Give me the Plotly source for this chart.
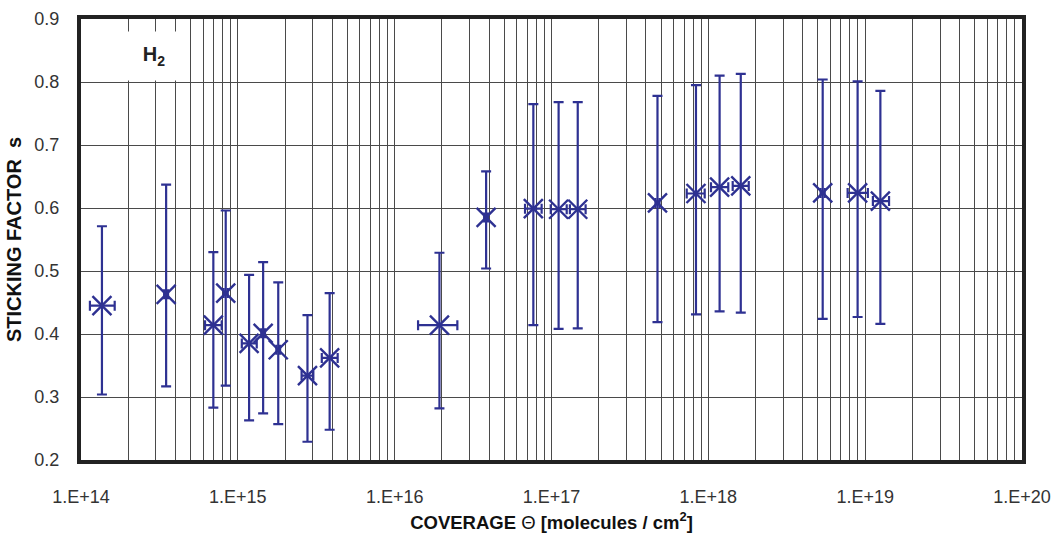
import plotly.graph_objects as go

# Coverage (molecules / cm^2): centre, lower and upper bound of the horizontal uncertainty
coverage = [1.36e14, 3.49e14, 6.98e14, 8.37e14, 1.18e15, 1.45e15, 1.81e15, 2.78e15, 3.85e15,
            1.93e16, 3.83e16, 7.66e16, 1.11e17, 1.47e17, 4.74e17, 8.34e17, 1.18e18, 1.61e18,
            5.36e18, 8.95e18, 1.25e19]
coverage_lo = [1.14e14, 3.39e14, 6.18e14, 8.12e14, 1.06e15, 1.41e15, 1.76e15, 2.55e15, 3.43e15,
               1.41e16, 3.72e16, 6.78e16, 9.89e16, 1.31e17, 4.60e17, 7.28e17, 1.04e18, 1.43e18,
               5.20e18, 7.73e18, 1.12e19]
coverage_hi = [1.64e14, 3.59e14, 7.89e14, 8.62e14, 1.32e15, 1.49e15, 1.86e15, 3.03e15, 4.33e15,
               2.51e16, 3.94e16, 8.65e16, 1.25e17, 1.65e17, 4.88e17, 9.48e17, 1.34e18, 1.81e18,
               5.52e18, 1.04e19, 1.42e19]

# Sticking factor s with lower / upper uncertainty bounds
sticking = [0.445, 0.463, 0.414, 0.465, 0.385, 0.401, 0.375, 0.334, 0.362,
            0.414, 0.585, 0.599, 0.598, 0.598, 0.608, 0.623, 0.633, 0.635,
            0.624, 0.624, 0.611]
sticking_lo = [0.304, 0.317, 0.283, 0.318, 0.263, 0.274, 0.257, 0.229, 0.248,
               0.282, 0.504, 0.414, 0.408, 0.409, 0.419, 0.431, 0.436, 0.434,
               0.424, 0.427, 0.416]
sticking_hi = [0.571, 0.637, 0.530, 0.596, 0.494, 0.514, 0.482, 0.430, 0.465,
               0.529, 0.658, 0.765, 0.768, 0.768, 0.778, 0.795, 0.810, 0.813,
               0.804, 0.801, 0.786]

decade_exponents = [14, 15, 16, 17, 18, 19, 20]
decade_labels = ["1.E+14", "1.E+15", "1.E+16", "1.E+17", "1.E+18", "1.E+19", "1.E+20"]

BLUE = "#2E3192"
FRAME = "#222222"
GRID = "#4a4a4a"
FONT = "Liberation Sans, Arial, sans-serif"

# Decades carry the labels; the 2..9 multiples inside each decade get grid lines
x_ticks = [10.0 ** exp for exp in decade_exponents]
x_minor = [m * 10.0 ** exp for exp in decade_exponents[:-1] for m in range(2, 10)]

fig = go.Figure()
fig.add_trace(go.Scatter(
    x=coverage,
    y=sticking,
    mode="markers",
    marker=dict(symbol="x-thin", size=19, line=dict(color=BLUE, width=2.4), color=BLUE),
    error_y=dict(type="data", symmetric=False,
                 array=[h - v for h, v in zip(sticking_hi, sticking)],
                 arrayminus=[v - l for v, l in zip(sticking, sticking_lo)],
                 color=BLUE, thickness=2.2, width=5),
    error_x=dict(type="data", symmetric=False,
                 array=[h - v for h, v in zip(coverage_hi, coverage)],
                 arrayminus=[v - l for v, l in zip(coverage, coverage_lo)],
                 color=BLUE, thickness=2.2, width=5),
    showlegend=False,
    hoverinfo="x+y",
))

# Gas label in a white box over the grid
fig.add_annotation(
    x=14.465, y=0.841, xref="x", yref="y",
    text="<b>H<sub>2</sub></b>", showarrow=False,
    font=dict(family=FONT, size=20, color="#222"),
    bgcolor="white", width=64, height=46, align="center", valign="middle",
)

fig.update_layout(
    width=1055, height=536,
    margin=dict(l=81, r=33, t=19, b=76),
    paper_bgcolor="white", plot_bgcolor="white",
    font=dict(family=FONT, size=18, color="#333"),
    xaxis=dict(
        type="log", range=[14, 20], automargin=False,
        tickmode="array", tickvals=x_ticks, ticktext=decade_labels, tickangle=0,
        showgrid=True, gridcolor=GRID, gridwidth=1,
        minor=dict(tickmode="array", tickvals=x_minor, showgrid=True,
                   gridcolor=GRID, gridwidth=1, ticks=""),
        showline=True, linecolor=FRAME, linewidth=4, mirror=True,
        ticks="", ticklabelstandoff=17,
        tickfont=dict(family=FONT, size=18, color="#333"),
        zeroline=False,
        title=dict(text="<b>COVERAGE </b>Θ<b> [molecules / cm<sup>2</sup>]</b>",
                   font=dict(family=FONT, size=18.5, color="#111"), standoff=11),
    ),
    yaxis=dict(
        range=[0.2, 0.9], dtick=0.1, tick0=0.2, tickformat=".1f", automargin=False,
        showgrid=True, gridcolor=GRID, gridwidth=1,
        showline=True, linecolor=FRAME, linewidth=4, mirror=True,
        ticks="", ticklabelstandoff=14,
        tickfont=dict(family=FONT, size=18, color="#333"),
        zeroline=False,
        title=dict(text="<b>STICKING FACTOR  s</b>",
                   font=dict(family=FONT, size=20, color="#111"), standoff=8),
    ),
)

fig.write_html("out.html")
